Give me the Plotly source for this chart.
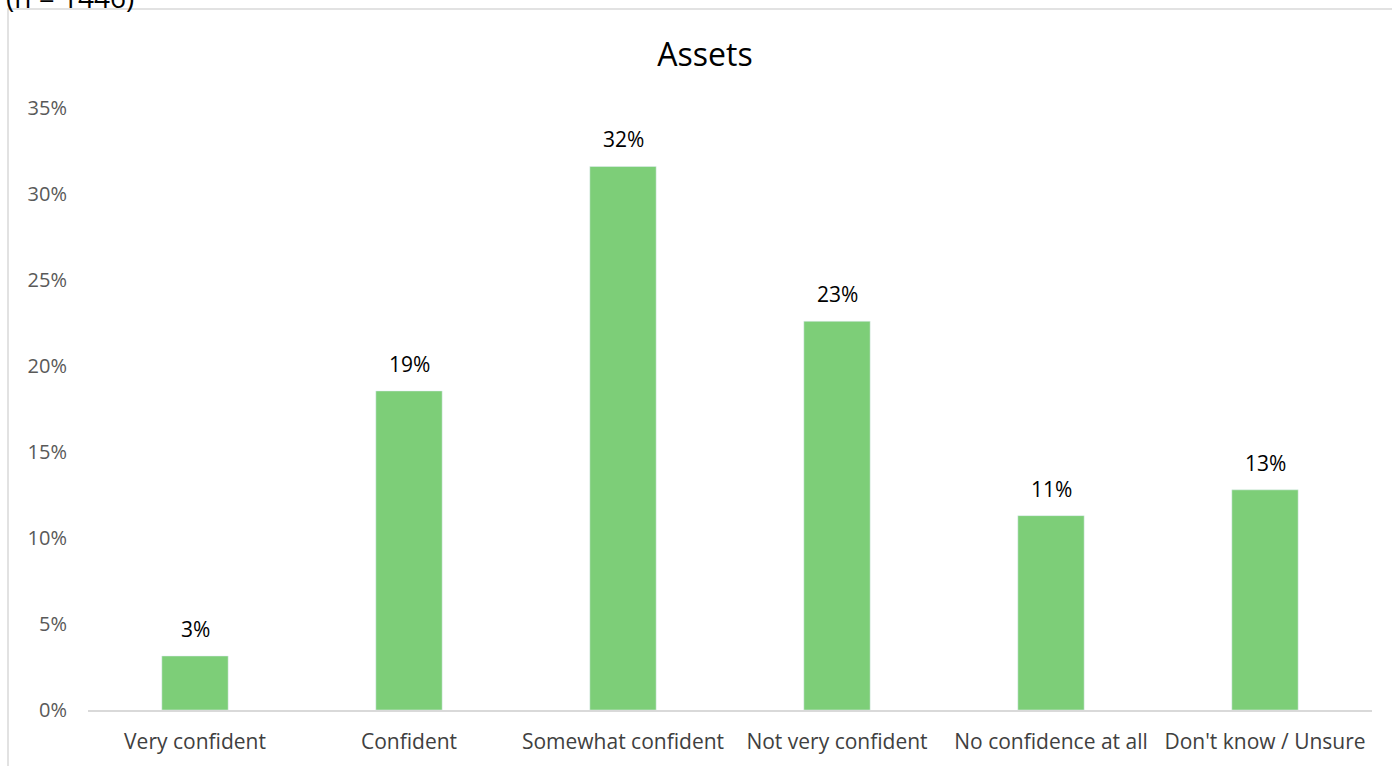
import plotly.graph_objects as go

categories = ["Very confident", "Confident", "Somewhat confident", "Not very confident",
              "No confidence at all", "Don't know / Unsure"]
values = [3.14, 18.55, 31.6, 22.6, 11.3, 12.8]
labels = ["3%", "19%", "32%", "23%", "11%", "13%"]
tick_vals = [0, 5, 10, 15, 20, 25, 30, 35]
tick_text = ["0%", "5%", "10%", "15%", "20%", "25%", "30%", "35%"]

W, H = 1392, 766
ml, mr, mt, mb = 88, 20, 108, 56
pw, ph = W - ml - mr, H - mt - mb

def px_x(x):
    return (x - ml) / pw

def px_y(y):
    return (H - mb - y) / ph

font = "Open Sans, Liberation Sans, sans-serif"

fig = go.Figure(go.Bar(
    x=categories, y=values, marker_color="#7DCE78", width=0.31, hoverinfo="skip",
))

annotations = [dict(x=c, y=v, text=t, xref="x", yref="y", showarrow=False,
                    yanchor="bottom", yshift=11,
                    font=dict(size=21, color="#000000", family=font))
               for c, v, t in zip(categories, values, labels)]
annotations.append(dict(text="(n = 1446)", xref="paper", yref="paper",
                        x=px_x(4), y=px_y(-3), xanchor="left", yanchor="middle",
                        showarrow=False, font=dict(size=28, color="#000000", family=font)))

fig.update_layout(
    width=W, height=H,
    margin=dict(l=ml, r=mr, t=mt, b=mb),
    paper_bgcolor="white", plot_bgcolor="white",
    showlegend=False,
    font=dict(family=font),
    title=dict(text="Assets", x=px_x(705), xref="paper", xanchor="center",
               y=1 - 55 / H, yanchor="middle",
               font=dict(size=32, color="#000000", family=font)),
    xaxis=dict(showgrid=False, showline=True, linecolor="#D9D9D9", linewidth=1.5,
               ticks="", ticklabelstandoff=12,
               tickfont=dict(size=21, color="#404040", family=font)),
    yaxis=dict(range=[0, 35], tickvals=tick_vals, ticktext=tick_text, showgrid=False,
               zeroline=False, showline=False, ticks="",
               tickfont=dict(size=20, color="#595959", family=font), ticklabelstandoff=20),
    shapes=[dict(type="rect", xref="paper", yref="paper",
                 x0=px_x(8), x1=px_x(1400), y0=px_y(780), y1=px_y(9),
                 line=dict(color="#D9D9D9", width=1.5), fillcolor="rgba(0,0,0,0)", layer="below")],
    annotations=annotations,
)

fig.write_html("out.html", config={"displayModeBar": False},
               post_script="document.body.style.margin='0px';document.body.style.overflow='hidden';")
